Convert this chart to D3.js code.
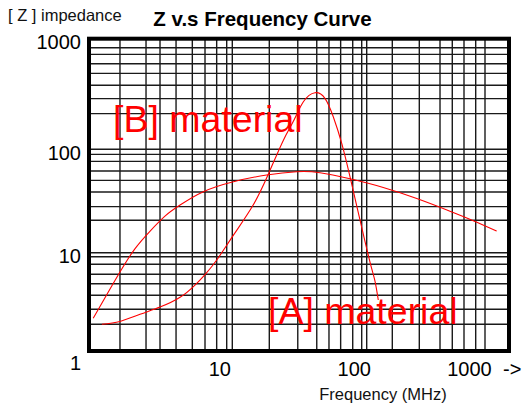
<!DOCTYPE html>
<html>
<head>
<meta charset="utf-8">
<script src="https://cdn.jsdelivr.net/npm/d3@7"></script>
<style>
  html, body { margin: 0; padding: 0; background: #fff; }
  svg { display: block; font-family: "Liberation Sans", Arial, sans-serif; }
</style>
</head>
<body>
<svg id="chart" width="524" height="406"></svg>
<script>
// ---- data ----
const xTickValues = [10, 100, 1000];
const yTickValues = [1, 10, 100, 1000];
// grid lines as drawn in the reference (frequency, MHz)
const xGridValues = [1.645, 2.50, 3.13, 4.05, 5.26, 6.45, 7.78, 9.14, 10,
                     18.85, 30.7, 42.5, 52.4, 64.0, 78.7, 91.8, 100,
                     164.6, 278.4, 416.6, 529, 664.5, 834.4, 1000];
// grid lines as drawn in the reference (impedance)
const yGridValues = [1.87, 2.66, 3.69, 4.84, 6.03, 7.62, 9.1, 10,
                     20.6, 27.9, 38.6, 50.1, 61.7, 76.5, 89.4, 100,
                     210, 287, 379, 486, 594, 722, 828];

const broadFreq = [1.07, 1.29, 1.645, 2.09, 2.67, 3.39, 4.32, 6.28, 10.2, 18.0, 30.1, 44.9, 75.1, 138, 265, 506, 796, 1257];
const broadZ    = [2.15, 3.46, 6.36, 10.9, 16.2, 22.6, 28.9, 38.9, 48.6, 56.4, 60.7, 59.4, 51.8, 42.7, 33.4, 25.2, 20.4, 16.2];

const sharpFreq = [1.23, 1.645, 2.27, 3.13, 4.32, 5.49, 6.45, 7.79, 10.2, 14.3, 18.7, 24.0, 28.4, 33.8, 41.2, 48.9, 56.4, 65.2, 75.1, 89.2, 106.6, 117.5, 125.3];
const sharpZ    = [1.87, 2.0, 2.36, 2.80, 3.52, 4.69, 6.00, 8.43, 14.8, 28.9, 59.0, 121, 178, 269, 325, 289, 197, 113, 54.3, 20.7, 8.04, 5.15, 3.30];

const titleText = "Z v.s Frequency Curve";
const yAxisTitle = "[ Z ] impedance";
const xAxisTitle = "Frequency (MHz)";
const labelB = "[B] material";
const labelA = "[A] material";

// ---- layout ----
const pLeft = 89, pRight = 509, pTop = 38.7, pBottom = 351;
const svg = d3.select("#chart");

// hand-drawn log axes: piecewise log scales
const x = d3.scaleLog().domain([1, 10, 100, 1000, 1600]).range([pLeft, 232.3, 366.7, 485, pRight]);
const y = d3.scaleLog().domain([1, 10, 100, 1000]).range([pBottom, 252.7, 149.3, pTop]);

// grid
const grid = svg.append("g").attr("stroke", "#1a1a1a").attr("stroke-width", 1.4);
grid.selectAll("line.v").data(xGridValues).join("line")
  .attr("class", "v")
  .attr("x1", d => x(d)).attr("x2", d => x(d))
  .attr("y1", pTop).attr("y2", pBottom);
grid.selectAll("line.h").data(yGridValues).join("line")
  .attr("class", "h")
  .attr("y1", d => y(d)).attr("y2", d => y(d))
  .attr("x1", pLeft).attr("x2", pRight);

// curves
const line = d3.line().x(d => x(d[0])).y(d => y(d[1])).curve(d3.curveNatural);
svg.append("path")
  .datum(broadFreq.map((f, i) => [f, broadZ[i]]))
  .attr("d", line).attr("fill", "none").attr("stroke", "#ff0000").attr("stroke-width", 1.1);
svg.append("path")
  .datum(sharpFreq.map((f, i) => [f, sharpZ[i]]))
  .attr("d", line).attr("fill", "none").attr("stroke", "#ff0000").attr("stroke-width", 1.1);

// frame
svg.append("rect")
  .attr("x", pLeft).attr("y", pTop)
  .attr("width", pRight - pLeft).attr("height", pBottom - pTop)
  .attr("fill", "none").attr("stroke", "#000").attr("stroke-width", 4);

// y axis
const yAxis = svg.append("g")
  .attr("transform", `translate(${pLeft},0)`)
  .call(d3.axisLeft(y).tickValues(yTickValues).tickSize(0).tickPadding(8).tickFormat(d3.format("d")));
yAxis.select(".domain").remove();
yAxis.selectAll("text")
  .attr("font-family", "Liberation Sans, Arial, sans-serif")
  .attr("font-size", 20).attr("fill", "#000")
  .attr("dy", d => d === 1 ? "0.9em" : "0.5em");

// x axis
const xAxis = svg.append("g")
  .attr("transform", `translate(0,${pBottom})`)
  .call(d3.axisBottom(x).tickValues(xTickValues).tickSize(0).tickFormat(d3.format("d")));
xAxis.select(".domain").remove();
xAxis.selectAll("text")
  .attr("font-family", "Liberation Sans, Arial, sans-serif")
  .attr("font-size", 20).attr("fill", "#000")
  .attr("y", 25).attr("dy", 0).attr("dx", d => d === 1000 ? -16 : -13);

svg.append("text").attr("x", 503).attr("y", 376)
  .attr("font-size", 20).text("->");

// titles
svg.append("text").attr("x", 262.5).attr("y", 26)
  .attr("text-anchor", "middle").attr("font-weight", "bold").attr("font-size", 20.5)
  .text(titleText);
svg.append("text").attr("x", 8).attr("y", 21)
  .attr("font-size", 16.5).attr("fill", "#111").text(yAxisTitle);
svg.append("text").attr("x", 383).attr("y", 400)
  .attr("text-anchor", "middle").attr("font-size", 16.5).attr("fill", "#111").text(xAxisTitle);

// material labels
svg.append("text").attr("x", 113).attr("y", 132)
  .attr("font-size", 37.5).attr("fill", "#ff0000").text(labelB);
svg.append("text").attr("x", 268).attr("y", 324)
  .attr("font-size", 37.5).attr("fill", "#ff0000").text(labelA);
</script>
</body>
</html>
